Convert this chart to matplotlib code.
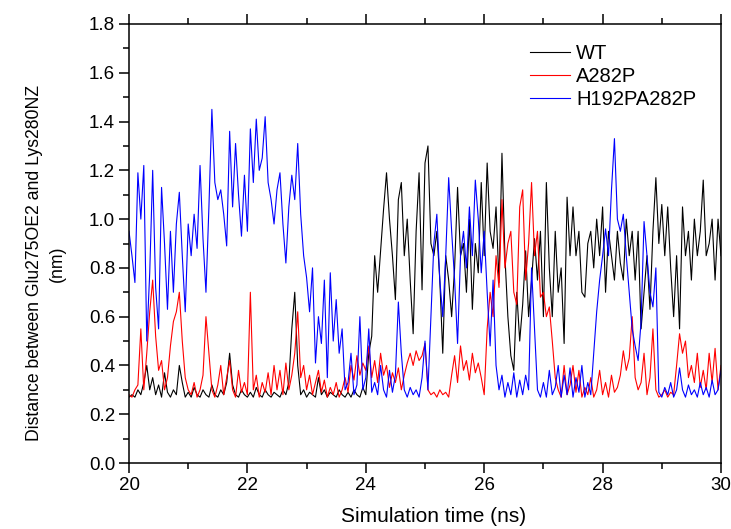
import matplotlib
matplotlib.use("Agg")
import matplotlib.pyplot as plt
import numpy as np
from matplotlib.ticker import MultipleLocator, FormatStrFormatter

plt.rcParams['font.family'] = ['Liberation Sans', 'DejaVu Sans']

# time axis, one reading every 0.05 ns from 20 to 30 ns
t_start, t_step, n_pts = 20.0, 0.05, 201

wt = [
    0.27, 0.28, 0.27, 0.30, 0.28, 0.33, 0.40, 0.30, 0.35, 0.28,
    0.32, 0.27, 0.37, 0.29, 0.27, 0.30, 0.28, 0.40, 0.33, 0.27,
    0.29, 0.27, 0.31, 0.28, 0.27, 0.30, 0.28, 0.27, 0.32, 0.28,
    0.27, 0.30, 0.28, 0.33, 0.45, 0.32, 0.28, 0.27, 0.30, 0.28,
    0.27, 0.29, 0.27, 0.31, 0.28, 0.27, 0.30, 0.28, 0.27, 0.29,
    0.28, 0.27, 0.30, 0.28, 0.33, 0.55, 0.70, 0.40, 0.28, 0.30,
    0.27, 0.29, 0.28, 0.27, 0.35, 0.28, 0.30, 0.27, 0.29, 0.28,
    0.27, 0.30, 0.28, 0.27, 0.29, 0.27, 0.30, 0.28, 0.27, 0.31,
    0.28, 0.45, 0.52, 0.85, 0.70, 0.87, 1.04, 1.19, 1.00, 0.85,
    0.67, 1.08, 1.15, 0.85, 1.00, 0.75, 0.53, 0.95, 1.19, 0.71,
    1.23, 1.30, 0.90, 0.85, 0.95, 0.75, 0.45, 0.85, 0.75, 0.60,
    0.80, 1.13, 0.85, 0.90, 0.70, 1.00, 0.63, 0.90, 0.78, 1.15,
    0.85, 1.23, 0.95, 0.88, 1.05, 0.74, 1.27, 0.85, 0.60, 0.44,
    0.38, 0.70, 0.50, 0.65, 0.87, 0.60, 0.75, 0.92, 0.75, 0.95,
    0.60, 1.15, 0.80, 0.60, 0.95, 0.70, 0.80, 0.49, 1.09, 0.85,
    1.05, 0.85, 0.95, 0.70, 0.68, 0.90, 0.95, 0.80, 1.00, 0.85,
    1.05, 0.70, 0.95, 0.85, 0.75, 0.95, 0.82, 0.75, 1.00, 0.85,
    0.95, 0.75, 0.95, 0.55, 0.70, 0.85, 0.63, 0.95, 1.17, 0.90,
    1.06, 0.85, 1.05, 0.80, 0.60, 0.85, 0.55, 1.05, 0.85, 0.95,
    0.75, 1.00, 0.85, 0.95, 1.16, 0.85, 0.90, 1.00, 0.75, 1.00,
    0.85,
]

a282p = [
    0.28, 0.27, 0.30, 0.32, 0.55, 0.30, 0.45, 0.62, 0.75, 0.52,
    0.38, 0.42, 0.30, 0.35, 0.48, 0.58, 0.62, 0.70, 0.50, 0.35,
    0.30, 0.28, 0.33, 0.27, 0.30, 0.36, 0.60, 0.45, 0.30, 0.27,
    0.32, 0.40, 0.28, 0.35, 0.42, 0.30, 0.27, 0.38, 0.29, 0.33,
    0.28, 0.70, 0.30, 0.36, 0.27, 0.33, 0.29, 0.37, 0.28, 0.40,
    0.30, 0.38, 0.28, 0.41, 0.30, 0.36, 0.45, 0.62, 0.35, 0.40,
    0.30, 0.36, 0.28, 0.33, 0.38, 0.29, 0.34, 0.27, 0.31, 0.28,
    0.33, 0.27, 0.30, 0.35, 0.29, 0.40, 0.34, 0.44, 0.36, 0.41,
    0.38, 0.48, 0.35, 0.42, 0.33, 0.45, 0.36, 0.40, 0.31, 0.37,
    0.33, 0.39, 0.30, 0.36, 0.41, 0.45, 0.40, 0.46, 0.42, 0.44,
    0.49, 0.30, 0.28, 0.29, 0.27, 0.30, 0.28, 0.29, 0.27, 0.36,
    0.44, 0.33, 0.48, 0.38, 0.42, 0.34, 0.45, 0.37, 0.41, 0.35,
    0.28, 0.55, 0.70, 0.60, 0.85, 0.72, 1.08, 0.80, 0.90, 0.95,
    0.70, 0.65, 1.05, 1.12, 0.75, 0.90, 1.15, 0.85, 0.95, 0.68,
    0.70, 0.60, 0.64, 0.50, 0.35, 0.30, 0.27, 0.40, 0.28, 0.32,
    0.40, 0.29, 0.38, 0.27, 0.31, 0.28, 0.35, 0.27, 0.30, 0.38,
    0.28, 0.33, 0.27, 0.36, 0.29, 0.31, 0.36, 0.46, 0.38, 0.43,
    0.60, 0.35, 0.30, 0.33, 0.45, 0.28, 0.35, 0.55, 0.30, 0.27,
    0.28, 0.30, 0.27, 0.29, 0.28, 0.40, 0.53, 0.45, 0.50, 0.35,
    0.40, 0.33, 0.45, 0.31, 0.38, 0.30, 0.45, 0.33, 0.47, 0.30,
    0.40,
]

h192p_a282p = [
    0.95, 0.85, 0.74, 1.19, 1.00, 1.22, 0.50, 0.78, 1.20, 0.72,
    0.55, 1.13, 0.90, 0.63, 0.95, 0.70, 0.98, 1.11, 0.85, 0.62,
    0.98, 0.85, 1.02, 0.88, 1.22, 0.92, 0.70, 1.05, 1.45, 1.15,
    1.08, 1.12, 1.02, 0.89, 1.36, 1.05, 1.31, 1.10, 0.93, 1.18,
    0.95, 1.37, 1.15, 1.41, 1.20, 1.25, 1.42, 1.15, 1.08, 0.98,
    1.12, 1.19, 0.98, 0.82, 1.05, 1.18, 1.08, 1.31, 1.02, 0.85,
    0.76, 0.62, 0.80, 0.41, 0.60, 0.49, 0.75, 0.35, 0.78, 0.50,
    0.67, 0.45, 0.55, 0.30, 0.33, 0.45, 0.28, 0.32, 0.60, 0.30,
    0.35, 0.55, 0.29, 0.33, 0.28, 0.40, 0.30, 0.27, 0.38, 0.29,
    0.36, 0.66, 0.45, 0.30, 0.27, 0.31, 0.28, 0.30, 0.27, 0.35,
    0.50, 0.30, 0.60, 0.90, 1.02, 0.75, 0.60, 0.85, 1.17, 0.95,
    0.75, 0.49, 0.85, 0.95, 0.80, 1.05, 0.85, 1.16, 1.00, 0.78,
    0.95, 0.70, 0.48, 0.75, 0.40, 0.30, 0.36, 0.27, 0.33, 0.28,
    0.37, 0.27, 0.34, 0.28, 0.36, 0.30, 0.80, 0.55, 0.30, 0.27,
    0.33, 0.27, 0.38, 0.28, 0.31, 0.40, 0.27, 0.36, 0.28, 0.39,
    0.27, 0.35, 0.29, 0.40, 0.27, 0.33, 0.28, 0.45, 0.62, 0.75,
    0.85, 0.96, 0.85, 1.12, 1.33, 1.00, 0.95, 1.02, 0.85, 0.70,
    0.55, 0.48, 0.42, 0.58, 0.99, 0.85, 0.70, 0.64, 0.80, 0.29,
    0.27, 0.31, 0.28, 0.33, 0.27, 0.30, 0.39, 0.30, 0.27, 0.32,
    0.28, 0.30, 0.27, 0.33, 0.28, 0.31, 0.27, 0.34, 0.28, 0.30,
    0.38,
]

time_ns = t_start + t_step * np.arange(n_pts)

fig = plt.figure(figsize=(7.31, 5.29), dpi=100)
ax = fig.add_axes([129/731, 1 - 463/529, 592/731, 439/529])

ax.plot(time_ns, wt, color='black', lw=0.8, label='WT')
ax.plot(time_ns, a282p, color='red', lw=0.8, label='A282P')
ax.plot(time_ns, h192p_a282p, color='blue', lw=0.8, label='H192PA282P')

ax.set_xlim(20, 30)
ax.set_ylim(0, 1.8)
ax.xaxis.set_major_locator(MultipleLocator(2))
ax.xaxis.set_minor_locator(MultipleLocator(1))
ax.yaxis.set_major_locator(MultipleLocator(0.2))
ax.yaxis.set_minor_locator(MultipleLocator(0.1))
ax.yaxis.set_major_formatter(FormatStrFormatter('%.1f'))

ax.tick_params(which='both', direction='out', top=True, right=False, width=1.1, labelsize=13.5)
ax.tick_params(which='major', length=7, pad=3)
ax.tick_params(which='minor', length=4.3)
for s in ax.spines.values():
    s.set_linewidth(1.1)

ax.set_xlabel('Simulation time (ns)', fontsize=15)
ax.xaxis.set_label_coords(0.514, -0.1)
ax.set_ylabel('Distance between Glu275OE2 and Lys280NZ\n(nm)', fontsize=12.7,
              linespacing=1.5)
ax.yaxis.set_label_coords(-0.106, 0.455)

ax.legend(loc='upper left', bbox_to_anchor=((522 - 129) / 592, 1 - 12 / 439), frameon=False,
          fontsize=14.5, handlelength=2.0, handletextpad=0.3, labelspacing=0.2, borderaxespad=0)

fig.savefig('out.png', dpi=100)
